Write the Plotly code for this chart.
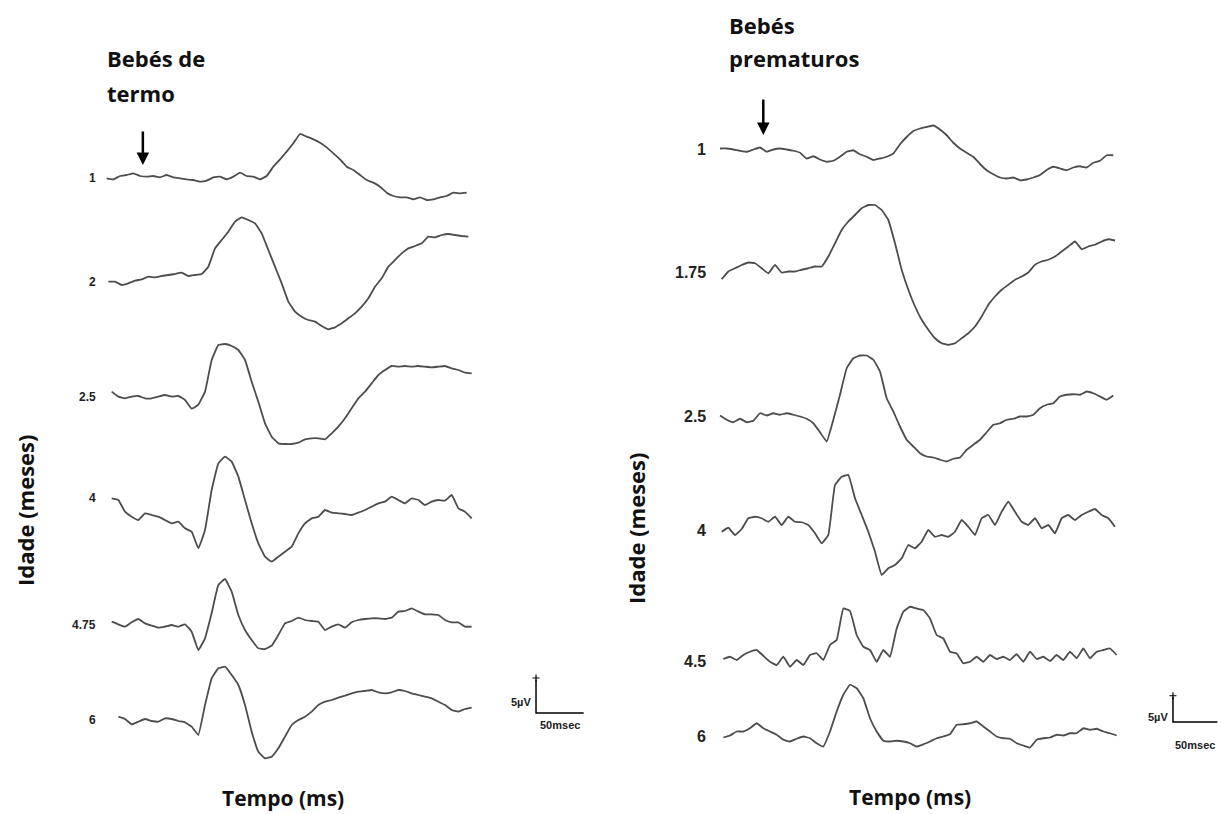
import numpy as np
import plotly.graph_objects as go

W, H = 1221, 814

# ---------------------------------------------------------------------------
# Data: averaged visual evoked potentials, one trace per age (months).
# Amplitudes in µV relative to each trace's own baseline.
# ---------------------------------------------------------------------------
TERM_AGES = ["1", "2", "2.5", "4", "4.75", "6"]
PRETERM_AGES = ["1", "1.75", "2.5", "4", "4.5", "6"]

# Term infants, sampled every 7 ms
TERM_STEP_MS = 7.0
TERM_START_MS = [0.0, 1.75, 5.25, 5.25, 5.25, 12.25]

term_1m = [0, -0.15, 0.35, 0.5, 0.75, 0.35, 0.25, 0.35, 0.15, 0.5,
           0.15, 0, -0.15, -0.25, -0.5, -0.35, 0.15, 0.25, -0.15, 0.25,
           0.85, 0.35, 0.25, -0.15, 0.35, 1.75, 2.85, 4.0, 5.25, 6.65,
           6.25, 5.85, 5.35, 4.65, 3.75, 2.85, 1.75, 1.25, 0.5, -0.25,
           -0.65, -1.25, -2.15, -2.65, -2.85, -2.85, -3.15, -2.85, -3.25, -3.15,
           -2.85, -2.65, -2.15, -2.25, -2.15]
term_2m = [0, 0, -0.5, -0.25, 0.15, 0.35, 0.75, 0.65, 0.85, 1.0,
           1.15, 1.35, 0.85, 1.0, 1.15, 2.25, 5.0, 6.25, 7.5, 9.0,
           9.65, 9.25, 8.75, 7.25, 4.75, 2.25, -0.25, -3.0, -4.5, -5.25,
           -5.75, -6.0, -6.65, -7.15, -6.85, -6.25, -5.5, -4.75, -3.75, -2.5,
           -0.75, 0.5, 2.25, 3.25, 4.25, 5.0, 5.35, 5.75, 6.75, 6.65,
           7.0, 7.15, 7.0, 6.85, 6.75]
term_2_5m = [0.75, 0, -0.25, 0, 0.1, -0.25, -0.25, 0, 0.25, 0,
             0.1, -0.5, -1.8, -1.2, 0.75, 5.5, 7.75, 7.9, 7.6, 7.0,
             5.5, 2.25, -0.75, -4.0, -6.0, -7.0, -7.1, -7.1, -6.9, -6.4,
             -6.25, -6.25, -6.4, -5.5, -4.5, -3.25, -1.75, -0.25, 0.75, 2.0,
             3.25, 4.0, 4.6, 4.5, 4.6, 4.5, 4.6, 4.5, 4.4, 4.5,
             4.6, 4.25, 4.0, 3.6, 3.5]
term_4m = [0, -0.25, -2.0, -2.75, -3.25, -2.25, -2.5, -2.75, -3.25, -3.75,
           -3.5, -4.5, -5.0, -7.5, -4.75, 1.25, 5.25, 6.25, 5.5, 3.25,
           -0.25, -3.75, -6.75, -8.75, -9.5, -8.75, -8.0, -7.25, -5.25, -3.75,
           -3.0, -2.75, -1.75, -2.15, -2.25, -2.35, -2.5, -2.15, -1.75, -1.25,
           -0.75, -0.5, 0.25, -0.25, -0.75, 0, -0.25, -1.0, -0.5, -0.25,
           -0.35, 0.5, -1.5, -2.0, -3.0]
term_4_75m = [0.5, 0.1, -0.25, 0.4, 0.9, 0.25, -0.1, -0.4, -0.25, 0,
              -0.25, 0.1, -1.0, -3.75, -2.0, 1.8, 6.0, 6.9, 5.0, 1.5,
              -0.75, -2.25, -3.5, -3.6, -3.1, -1.5, 0.25, 0.6, 1.1, 0.75,
              0.6, 0.5, -0.75, -0.25, 0.1, -0.4, 0.4, 0.75, 0.9, 1.0,
              1.0, 0.9, 1.1, 2.0, 2.1, 2.5, 2.0, 1.6, 1.6, 1.5,
              0.75, 0.4, 0.4, -0.25, -0.25]
term_6m = [0.5, 0.15, -0.65, -0.25, 0.15, -0.15, -0.25, 0.25, 0.15, -0.15,
           -0.35, -1.0, -2.25, 2.25, 6.25, 7.75, 8.0, 6.75, 5.25, 2.25,
           -1.75, -4.75, -5.75, -5.5, -4.25, -2.5, -0.75, 0, 0.5, 1.25,
           2.25, 2.75, 3.0, 3.35, 3.65, 4.0, 4.25, 4.35, 4.5, 4.15,
           4.0, 4.15, 4.5, 4.35, 4.0, 3.75, 3.5, 3.25, 2.75, 2.25,
           1.5, 1.25, 1.65, 1.85]

# Preterm infants, sampled every 7.5 ms
PRETERM_STEP_MS = 7.5
PRETERM_START_MS = [0.0, 1.875, 0.0, 1.875, 3.75, 3.75]

preterm_1m = [0.2, 0.2, 0, -0.25, -0.45, 0, 0.4, -0.45, 0, 0.2,
              0, -0.25, -0.65, -1.8, -1.35, -2.0, -2.45, -2.25, -1.45, -0.45,
              -0.15, -0.95, -1.45, -2.1, -1.8, -1.45, -0.8, 1.05, 2.5, 3.7,
              4.2, 4.5, 4.8, 4.0, 2.85, 1.35, 0.2, -0.65, -1.45, -2.9,
              -4.15, -4.95, -5.6, -5.8, -5.6, -6.15, -6.0, -5.6, -5.1, -4.1,
              -3.45, -3.8, -4.15, -3.6, -3.35, -3.6, -2.65, -2.25, -1.15, -1.15]
preterm_1_75m = [-1.35, 0.2, 0.85, 1.5, 2.0, 1.85, 0.85, -0.15, 1.5, 0,
                 0.2, 0.2, 0.55, 0.85, 1.2, 1.2, 3.2, 5.85, 8.5, 10.2,
                 11.5, 12.85, 13.5, 13.5, 12.5, 10.5, 5.85, 0.55, -3.45, -6.8,
                 -9.45, -11.45, -13.15, -14.15, -14.5, -14.15, -13.15, -12.15, -10.8, -8.8,
                 -6.45, -4.8, -3.45, -2.45, -1.45, -0.8, 0, 1.55, 2.2, 2.55,
                 3.2, 4.2, 5.2, 6.2, 4.65, 5.2, 5.55, 6.2, 6.65, 6.4]
preterm_2_5m = [0.2, -0.65, -1.15, -0.45, -1.15, -0.85, 0.65, 0.2, 0.65, 0.35,
                0.65, 0.35, 0, -0.45, -1.35, -3.15, -5.0, -0.65, 4.35, 9.65,
                11.65, 12.2, 12.2, 11.35, 9.0, 3.65, 1.0, -2.0, -4.65, -6.0,
                -7.35, -8.0, -8.2, -8.65, -9.0, -8.45, -8.2, -6.65, -5.65, -4.65,
                -3.15, -1.65, -1.35, -0.65, -0.45, 0, 0, 0.35, 1.65, 2.35,
                2.65, 4.0, 4.35, 4.45, 4.35, 5.0, 4.65, 4.0, 3.35, 4.2]
preterm_4m = [-0.35, 0.45, -1.0, 0.2, 2.35, 2.65, 2.35, 1.65, 2.65, 1.0,
              2.65, 1.65, 1.55, 1.0, -0.65, -2.65, -1.0, 9.0, 10.65, 11.0,
              6.35, 3.0, -0.35, -4.35, -9.0, -7.65, -7.0, -5.65, -3.0, -3.65,
              -2.35, 0, -1.35, -1.0, -1.35, -0.35, 2.0, 0.65, -1.0, 2.35,
              3.0, 1.0, 3.65, 5.65, 3.65, 1.65, 1.0, 2.35, 0.35, 1.0,
              -0.65, 2.35, 3.0, 2.0, 3.0, 3.65, 4.2, 3.0, 2.35, 0.65]
preterm_4_5m = [0.4, 0.85, 0.2, 1.2, 1.85, 2.2, 1.05, -0.15, -0.8, 0.85,
                -1.15, 0.2, -0.8, 1.2, 1.55, 0.2, 3.2, 4.2, 10.5, 10.0,
                5.2, 2.85, 2.2, -0.15, 2.2, 0.85, 6.5, 9.85, 10.85, 10.5,
                10.2, 8.5, 5.2, 4.5, 1.85, 1.5, -0.45, -0.15, 0.85, -0.15,
                1.2, 0.4, 0.85, 0.2, 1.35, -0.15, 1.85, 0.4, 0.85, 0,
                1.2, 0.2, 1.85, 0.55, 2.5, 0.55, 1.85, 2.2, 2.5, 1.2]
preterm_6m = [-0.2, 0.2, 1.0, 1.0, 1.65, 2.65, 1.65, 1.0, 0.35, -0.65,
              -1.0, -0.45, 0, -0.35, -1.35, -2.0, 1.0, 5.0, 8.35, 10.35,
              9.65, 7.65, 3.65, 1.0, -0.85, -1.0, -0.85, -1.0, -1.35, -2.0,
              -1.55, -1.0, -0.35, 0, 0.45, 2.35, 2.45, 2.65, 3.0, 2.0,
              1.0, 0, -0.35, -0.45, -1.35, -1.8, -2.2, -0.65, -0.35, -0.2,
              0.35, 0.2, 0.65, 0.65, 1.65, 1.35, 1.55, 1.0, 0.65, 0.2]

TERM_TRACES = [term_1m, term_2m, term_2_5m, term_4m, term_4_75m, term_6m]
PRETERM_TRACES = [preterm_1m, preterm_1_75m, preterm_2_5m, preterm_4m,
                  preterm_4_5m, preterm_6m]

# Calibration bars
SCALE_UV = 5
SCALE_MS = 50

# ---------------------------------------------------------------------------
# Layout constants
# ---------------------------------------------------------------------------
# vertical stacking offset (µV) of each trace in its panel
TERM_OFFSET = [95.35, 79.85, 62.6, 47.35, 28.35, 14.1]
PRETERM_OFFSET = [132.9, 108.3, 79.5, 56.8, 30.6, 15.5]

LINE_COLOR = "#4d4d4d"
LABEL_FONT = "Liberation Sans"
TITLE_FONT = "Open Sans"


def px(x):
    return x / W


def py(y):
    return 1 - y / H


fig = go.Figure()


def add_panel(traces, starts, step, offsets, xa, ya):
    for vals, t0, off in zip(traces, starts, offsets):
        t = t0 + step * np.arange(len(vals))
        fig.add_trace(go.Scatter(
            x=t, y=off + np.asarray(vals, dtype=float), mode="lines",
            line=dict(color=LINE_COLOR, width=1.8, shape="spline", smoothing=0.3),
            xaxis=xa, yaxis=ya, showlegend=False, hoverinfo="skip"))


add_panel(TERM_TRACES, TERM_START_MS, TERM_STEP_MS, TERM_OFFSET, "x", "y")
add_panel(PRETERM_TRACES, PRETERM_START_MS, PRETERM_STEP_MS, PRETERM_OFFSET, "x2", "y2")


def add_scale_bar(t0, v0, xa, ya):
    fig.add_trace(go.Scatter(
        x=[t0, t0, t0 + SCALE_MS], y=[v0 + SCALE_UV, v0, v0], mode="lines",
        line=dict(color="black", width=1.5), xaxis=xa, yaxis=ya,
        showlegend=False, hoverinfo="skip"))
    fig.add_trace(go.Scatter(
        x=[t0], y=[v0 + SCALE_UV + 0.25], mode="markers",
        marker=dict(symbol="cross-thin", size=5, line=dict(color="black", width=1.2)),
        xaxis=xa, yaxis=ya, showlegend=False, hoverinfo="skip"))


TERM_BAR = (450.8, 15.15)
PRETERM_BAR = (509.6, 18.4)
add_scale_bar(*TERM_BAR, "x", "y")
add_scale_bar(*PRETERM_BAR, "x2", "y2")

annotations = []

# age labels next to each trace
for lab, off in zip(TERM_AGES, TERM_OFFSET):
    annotations.append(dict(x=-9, y=off, xref="x", yref="y", text=f"<b>{lab}</b>",
                            showarrow=False, xanchor="right", yanchor="middle",
                            font=dict(family=LABEL_FONT, size=12, color="#222")))
for lab, off in zip(PRETERM_AGES, PRETERM_OFFSET):
    annotations.append(dict(x=-13.5, y=off, xref="x2", yref="y2", text=f"<b>{lab}</b>",
                            showarrow=False, xanchor="right", yanchor="middle",
                            font=dict(family=LABEL_FONT, size=16, color="#222")))

# calibration bar labels
for (t0, v0), xr, yr, dv_uv, dv_ms in [(TERM_BAR, "x", "y", 1.6, -1.8),
                                        (PRETERM_BAR, "x2", "y2", 1.0, -4.6)]:
    annotations.append(dict(x=t0 - 3, y=v0 + dv_uv, xref=xr, yref=yr,
                            text=f"<b>{SCALE_UV}µV</b>", showarrow=False,
                            xanchor="right", yanchor="middle",
                            font=dict(family=LABEL_FONT, size=11, color="#222")))
    annotations.append(dict(x=t0 + SCALE_MS / 2, y=v0 + dv_ms, xref=xr, yref=yr,
                            text=f"<b>{SCALE_MS}msec</b>", showarrow=False,
                            xanchor="center", yanchor="middle",
                            font=dict(family=LABEL_FONT, size=11, color="#222")))

# stimulus onset arrows
for t, v_head, v_tail, xr, yr in [(38, 97.35, 102.6, "x", "y"),
                                   (48.7, 135.8, 143.2, "x2", "y2")]:
    annotations.append(dict(x=t, y=v_head, ax=t, ay=v_tail, xref=xr, yref=yr,
                            axref=xr, ayref=yr, text="", showarrow=True,
                            arrowhead=2, arrowsize=1, arrowwidth=2.5,
                            arrowcolor="black"))

title_font = dict(family=TITLE_FONT, size=22, color="#111")
for text, x, y in [("Bebés de", 105, 58), ("termo", 105, 93),
                   ("Bebés", 727, 25), ("prematuros", 727, 58)]:
    annotations.append(dict(x=px(x), y=py(y), xref="paper", yref="paper",
                            text=f"<b>{text}</b>", showarrow=False,
                            xanchor="left", yanchor="middle", font=title_font))

axis_font = dict(family=TITLE_FONT, size=21, color="#111")
for x, y in [(283, 798), (910, 797)]:
    annotations.append(dict(x=px(x), y=py(y), xref="paper", yref="paper",
                            text="<b>Tempo (ms)</b>", showarrow=False,
                            xanchor="center", yanchor="middle", font=axis_font))
for x, y in [(25, 510), (636, 528)]:
    annotations.append(dict(x=px(x), y=py(y), xref="paper", yref="paper",
                            text="<b>Idade (meses)</b>", showarrow=False, textangle=-90,
                            xanchor="center", yanchor="middle", font=title_font))

hidden = dict(visible=False, showgrid=False, zeroline=False, fixedrange=True)
fig.update_layout(
    width=W, height=H, margin=dict(l=0, r=0, t=0, b=0),
    paper_bgcolor="white", plot_bgcolor="rgba(0,0,0,0)",
    xaxis=dict(domain=[0, 0.5], range=[-112.0, 529.0], anchor="y", **hidden),
    yaxis=dict(domain=[0, 1], range=[0, H / 6.6667], anchor="x", **hidden),
    xaxis2=dict(domain=[0.5, 1], range=[-123.19, 563.63], anchor="y2", **hidden),
    yaxis2=dict(domain=[0, 1], range=[0, H / 5.0], anchor="x2", **hidden),
    annotations=annotations,
)

fig.write_html("out.html")
